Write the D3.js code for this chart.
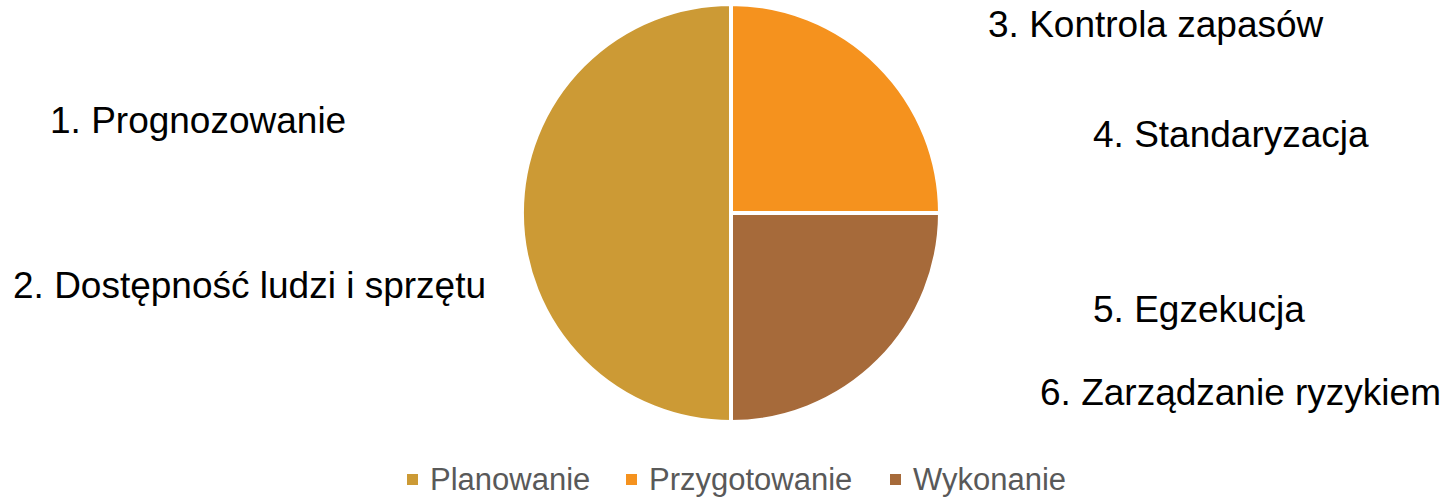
<!DOCTYPE html>
<html>
<head>
<meta charset="utf-8">
<script src="https://cdn.jsdelivr.net/npm/d3@7"></script>
<style>
  body { margin: 0; background: #fff; }
  svg { display: block; font-family: "Liberation Sans", Arial, sans-serif; }
</style>
</head>
<body>
<div class="chart"></div>
<script>
const categories = ["Planowanie", "Przygotowanie", "Wykonanie"];
const values = [50, 25, 25];
const colors = ["#CC9A35", "#F5921E", "#A66A3A"];
const labels = [
  "1. Prognozowanie",
  "2. Dostępność ludzi i sprzętu",
  "3. Kontrola zapasów",
  "4. Standaryzacja",
  "5. Egzekucja",
  "6. Zarządzanie ryzykiem"
];

function makeSVG() {
  const width = 1455, height = 498;
  const svg = d3.select(".chart").append("svg")
    .attr("width", width)
    .attr("height", height);

  const data = categories.map((c, i) => ({ name: c, value: values[i] }));
  const colorScale = d3.scaleOrdinal().domain(categories).range(colors);

  const pie = d3.pie()
    .sort(null)
    .value(d => d.value)
    .startAngle(Math.PI)
    .endAngle(3 * Math.PI);
  const arc = d3.arc().innerRadius(0).outerRadius(209);

  svg.append("g")
    .attr("transform", "translate(731,213)")
    .selectAll("path")
    .data(pie(data))
    .enter()
    .append("path")
    .attr("d", arc)
    .attr("fill", d => colorScale(d.data.name))
    .attr("stroke", "#fff")
    .attr("stroke-width", 4);

  // text boxes placed around the pie
  const labelPos = [[50, 133], [13, 298], [988, 37], [1093, 147], [1093, 322], [1040, 405]];
  svg.append("g")
    .selectAll("text")
    .data(labels)
    .enter()
    .append("text")
    .attr("x", (d, i) => labelPos[i][0])
    .attr("y", (d, i) => labelPos[i][1])
    .attr("font-size", 37)
    .attr("fill", "#000")
    .text(d => d);

  // legend
  const legendX = [407, 626, 890];
  const legend = svg.append("g")
    .selectAll("g")
    .data(categories)
    .enter()
    .append("g")
    .attr("transform", (d, i) => `translate(${legendX[i]},0)`);
  legend.append("rect")
    .attr("x", 0)
    .attr("y", 474)
    .attr("width", 11)
    .attr("height", 11)
    .attr("fill", d => colorScale(d));
  legend.append("text")
    .attr("x", 23)
    .attr("y", 490)
    .attr("font-size", 31)
    .attr("fill", "#595959")
    .text(d => d);
}
makeSVG();
</script>
</body>
</html>
